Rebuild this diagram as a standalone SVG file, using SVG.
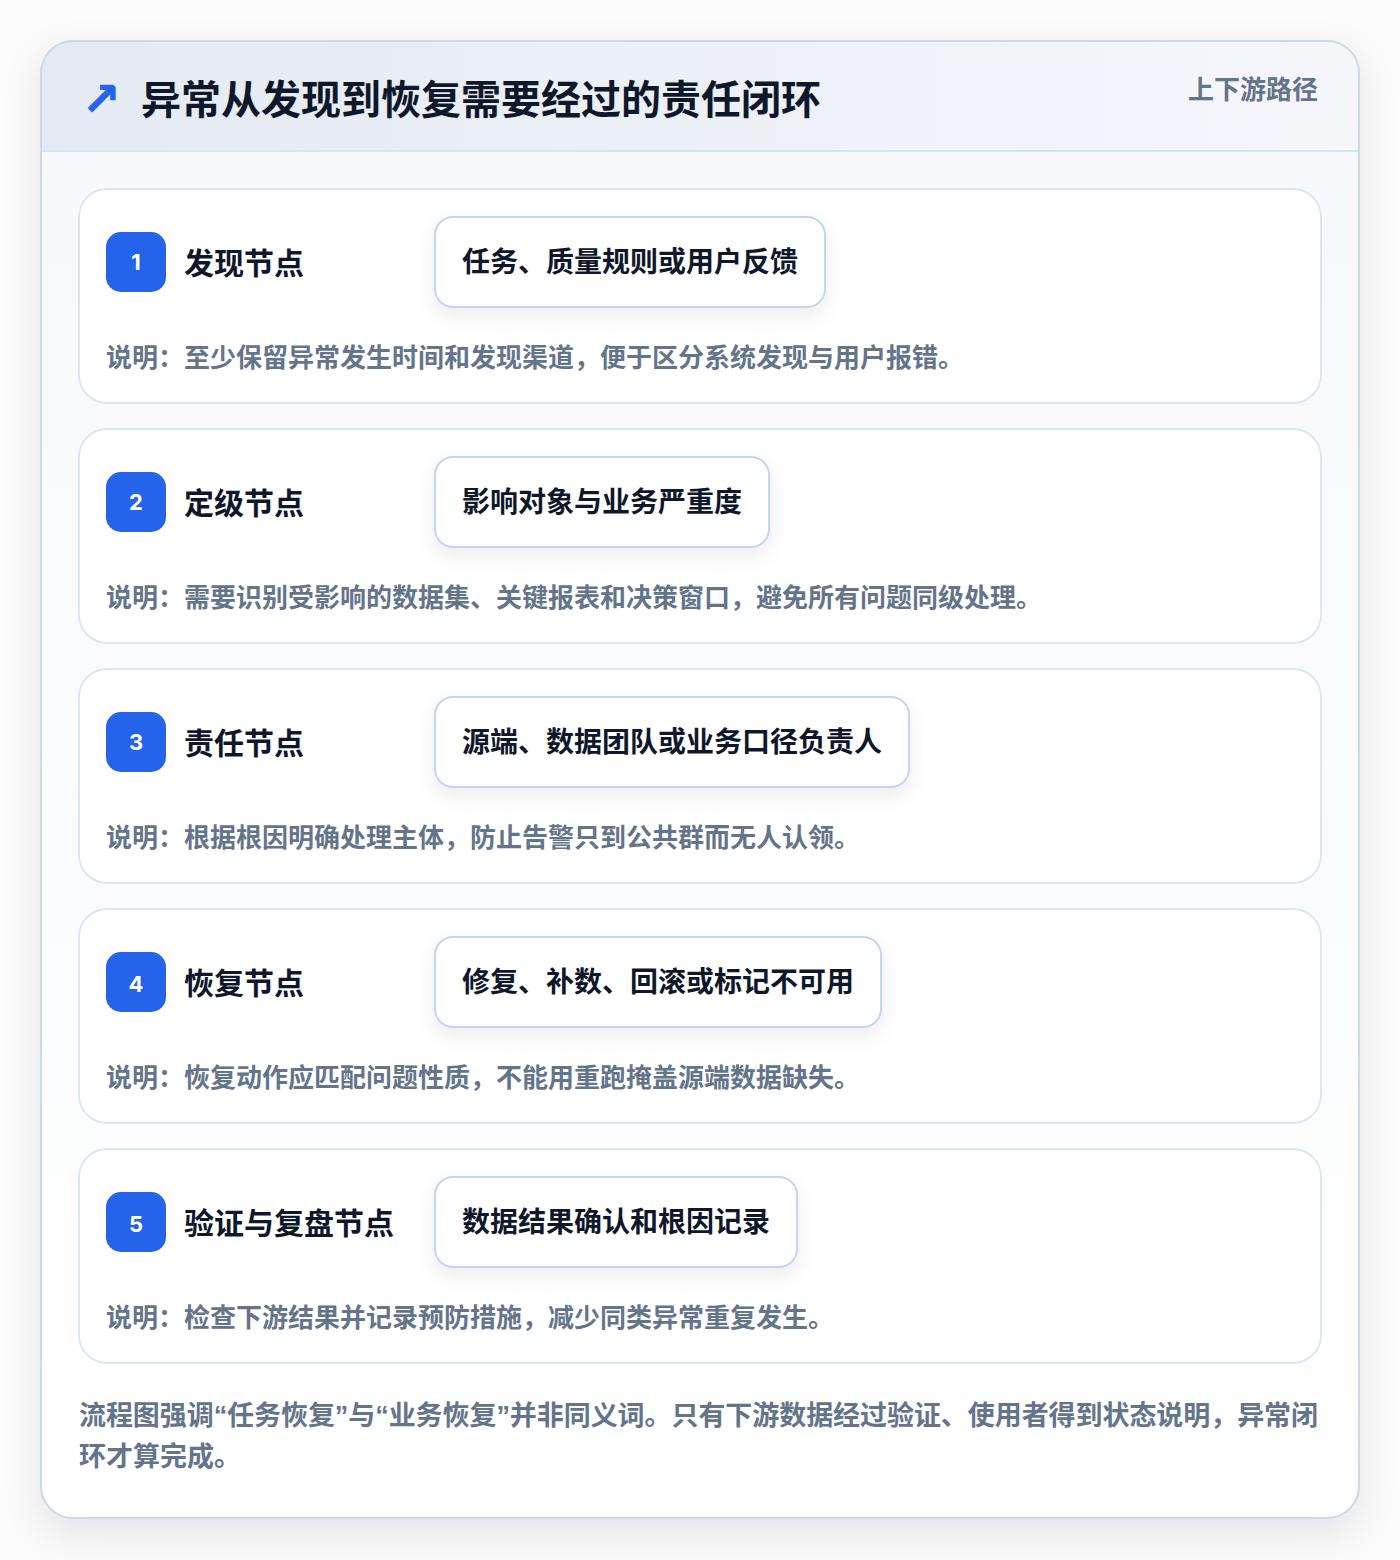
<svg xmlns="http://www.w3.org/2000/svg" width="1400" height="1560" viewBox="0 0 1400 1560">
  <style>
    .cjk { font-family: "Noto Sans CJK SC", "Noto Sans", sans-serif; font-weight: 700; }
    .title { font-size: 40px; fill: #0f172a; }
    .tag { font-size: 26px; fill: #64748b; }
    .card { fill: #ffffff; stroke: #dbe7f7; stroke-width: 2; }
    .badge { fill: #2563eb; }
    .num { font-family: "Inter", "Liberation Sans", sans-serif; font-weight: 700; font-size: 22px; fill: #ffffff; text-anchor: middle; }
    .label { font-size: 30px; fill: #0f172a; }
    .pill { fill: #ffffff; stroke: #bfd6f6; stroke-width: 2; }
    .pilltext { font-size: 28px; fill: #0f172a; }
    .desc { font-size: 26px; fill: #64748b; }
    .foot { font-size: 27px; fill: #64748b; }
    .q { font-family: "Liberation Sans", "Noto Sans", sans-serif; }
  </style>
  <defs>
    <filter id="outerShadow" x="-10%" y="-10%" width="120%" height="120%">
      <feDropShadow dx="0" dy="14" stdDeviation="18" flood-color="#0f172a" flood-opacity="0.10"/>
    </filter>
    <filter id="pillShadow" x="-20%" y="-40%" width="140%" height="190%">
      <feDropShadow dx="0" dy="8" stdDeviation="10" flood-color="#0f172a" flood-opacity="0.07"/>
    </filter>
    <linearGradient id="headGrad" x1="0" y1="0" x2="1" y2="0">
      <stop offset="0" stop-color="#e4eaf3"/>
      <stop offset="1" stop-color="#f5f7fb"/>
    </linearGradient>
    <linearGradient id="bodyGrad" x1="0" y1="0" x2="0" y2="1">
      <stop offset="0" stop-color="#f7f9fc"/>
      <stop offset="1" stop-color="#ffffff"/>
    </linearGradient>
    <clipPath id="outerClip">
      <rect x="41" y="41" width="1318" height="1477" rx="32"/>
    </clipPath>
  </defs>

  <rect width="1400" height="1560" fill="#fbfbfc"/>

  <g id="frame">
    <rect x="41" y="41" width="1318" height="1477" rx="32" fill="#ffffff" filter="url(#outerShadow)"/>
    <g clip-path="url(#outerClip)">
      <rect x="41" y="151" width="1318" height="1367" fill="url(#bodyGrad)"/>
      <rect x="41" y="41" width="1318" height="110" fill="url(#headGrad)"/>
      <line x1="41" y1="151" x2="1359" y2="151" stroke="#d6e4f5" stroke-width="2"/>
    </g>
    <rect x="41" y="41" width="1318" height="1477" rx="32" fill="none" stroke="#cfd8e6" stroke-width="2"/>
  </g>

  <g id="header">
    <text x="82" y="115" font-family="DejaVu Sans, sans-serif" font-weight="700" font-size="46" fill="#2563eb" stroke="#2563eb" stroke-width="0.8">↗</text>
    <text class="cjk title" x="141" y="114">异常从发现到恢复需要经过的责任闭环</text>
    <text class="cjk tag" x="1318" y="99" text-anchor="end">上下游路径</text>
  </g>

  <g id="node1">
    <rect class="card" x="79" y="189" width="1242" height="214" rx="28"/>
    <rect class="badge" x="106" y="232" width="60" height="60" rx="15"/>
    <text class="num" x="136" y="270">1</text>
    <text class="cjk label" x="184" y="274">发现节点</text>
    <rect class="pill" x="435" y="217" width="390" height="90" rx="18" filter="url(#pillShadow)"/>
    <text class="cjk pilltext" x="462" y="272">任务、质量规则或用户反馈</text>
    <text class="cjk desc" x="106" y="367">说明：至少保留异常发生时间和发现渠道，便于区分系统发现与用户报错。</text>
  </g>

  <g id="node2">
    <rect class="card" x="79" y="429" width="1242" height="214" rx="28"/>
    <rect class="badge" x="106" y="472" width="60" height="60" rx="15"/>
    <text class="num" x="136" y="510">2</text>
    <text class="cjk label" x="184" y="514">定级节点</text>
    <rect class="pill" x="435" y="457" width="334" height="90" rx="18" filter="url(#pillShadow)"/>
    <text class="cjk pilltext" x="462" y="512">影响对象与业务严重度</text>
    <text class="cjk desc" x="106" y="607">说明：需要识别受影响的数据集、关键报表和决策窗口，避免所有问题同级处理。</text>
  </g>

  <g id="node3">
    <rect class="card" x="79" y="669" width="1242" height="214" rx="28"/>
    <rect class="badge" x="106" y="712" width="60" height="60" rx="15"/>
    <text class="num" x="136" y="750">3</text>
    <text class="cjk label" x="184" y="754">责任节点</text>
    <rect class="pill" x="435" y="697" width="474" height="90" rx="18" filter="url(#pillShadow)"/>
    <text class="cjk pilltext" x="462" y="752">源端、数据团队或业务口径负责人</text>
    <text class="cjk desc" x="106" y="847">说明：根据根因明确处理主体，防止告警只到公共群而无人认领。</text>
  </g>

  <g id="node4">
    <rect class="card" x="79" y="909" width="1242" height="214" rx="28"/>
    <rect class="badge" x="106" y="952" width="60" height="60" rx="15"/>
    <text class="num" x="136" y="992">4</text>
    <text class="cjk label" x="184" y="994">恢复节点</text>
    <rect class="pill" x="435" y="937" width="446" height="90" rx="18" filter="url(#pillShadow)"/>
    <text class="cjk pilltext" x="462" y="992">修复、补数、回滚或标记不可用</text>
    <text class="cjk desc" x="106" y="1087">说明：恢复动作应匹配问题性质，不能用重跑掩盖源端数据缺失。</text>
  </g>

  <g id="node5">
    <rect class="card" x="79" y="1149" width="1242" height="214" rx="28"/>
    <rect class="badge" x="106" y="1192" width="60" height="60" rx="15"/>
    <text class="num" x="136" y="1232">5</text>
    <text class="cjk label" x="184" y="1234">验证与复盘节点</text>
    <rect class="pill" x="435" y="1177" width="362" height="90" rx="18" filter="url(#pillShadow)"/>
    <text class="cjk pilltext" x="462" y="1232">数据结果确认和根因记录</text>
    <text class="cjk desc" x="106" y="1327">说明：检查下游结果并记录预防措施，减少同类异常重复发生。</text>
  </g>

  <g id="connectors"></g>

  <g id="footer">
    <text class="cjk foot" x="79" y="1425" textLength="1239" lengthAdjust="spacing">流程图强调<tspan class="q">“</tspan>任务恢复<tspan class="q">”</tspan>与<tspan class="q">“</tspan>业务恢复<tspan class="q">”</tspan>并非同义词。只有下游数据经过验证、使用者得到状态说明，异常闭</text>
    <text class="cjk foot" x="79" y="1466">环才算完成。</text>
  </g>
</svg>
